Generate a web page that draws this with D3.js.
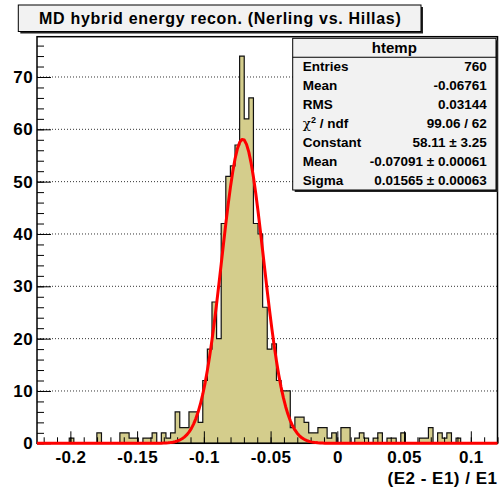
<!DOCTYPE html>
<html>
<head>
<meta charset="utf-8">
<script src="https://cdn.jsdelivr.net/npm/d3@7"></script>
<style>
  body { margin: 0; background: #fff; }
  text { font-family: "Liberation Sans", Arial, Helvetica, sans-serif; font-weight: bold; fill: #000; }
</style>
</head>
<body>
<svg id="chart" width="502" height="487"></svg>
<script>
// histogram "htemp" : 100 equal bins between xLow and xHigh
const xLow = -0.225, xHigh = 0.12;
const binCounts = [
  0, 0, 0, 0, 0, 0, 0, 1, 0, 0,
  0, 0, 0, 2, 0, 0, 0, 0, 2, 2,
  1, 1, 0, 1, 1, 2, 0, 2, 1, 2,
  6, 3, 3, 6, 6, 4, 12, 18, 27, 20,
  42, 51, 53, 57, 74, 62, 66, 42, 40, 26,
  18, 19, 12, 10, 10, 3, 5, 5, 4, 2,
  2, 3, 3, 1, 2, 0, 3, 3, 0, 1,
  2, 1, 0, 1, 2, 0, 1, 1, 0, 2,
  0, 0, 0, 1, 1, 3, 0, 2, 1, 2,
  0, 1, 0, 0, 0, 0, 0, 0, 0, 0
];
const yMax = 77.7;

const xMajorTicks = [-0.2, -0.15, -0.1, -0.05, 0, 0.05, 0.1];
const xTickLabels = ["-0.2", "-0.15", "-0.1", "-0.05", "0", "0.05", "0.1"];
const yMajorTicks = [0, 10, 20, 30, 40, 50, 60, 70];
const yTickLabels = ["0", "10", "20", "30", "40", "50", "60", "70"];

// gaussian fit parameters (from the stats box)
const fitConstant = 58.11, fitMean = -0.07091, fitSigma = 0.01565;

const titleText = "MD hybrid energy recon. (Nerling vs. Hillas)";
const xTitle = "(E2 - E1) / E1";
const statsName = "htemp";
const statLabels = ["Entries", "Mean", "RMS", "\u03c7\u00b2 / ndf", "Constant", "Mean", "Sigma"];
const statValues = ["760", "-0.06761", "0.03144", "99.06 / 62", "58.11 \u00b1 3.25",
                    "-0.07091 \u00b1 0.00061", "0.01565 \u00b1 0.00063"];

const svg = d3.select("#chart");
const frame = { left: 37, right: 497.5, top: 36.7, bottom: 443.3 };

const x = d3.scaleLinear().domain([xLow, xHigh]).range([frame.left, frame.right]);
const y = d3.scaleLinear().domain([0, yMax]).range([frame.bottom, frame.top]);

svg.append("rect").attr("width", 502).attr("height", 487).attr("fill", "#fff");

// grid on y
svg.append("g")
  .selectAll("line")
  .data(yMajorTicks.filter(d => d > 0))
  .enter().append("line")
  .attr("x1", frame.left).attr("x2", frame.right)
  .attr("y1", d => y(d)).attr("y2", d => y(d))
  .attr("stroke", "#333").attr("stroke-width", 1)
  .attr("stroke-dasharray", "1,2");

// histogram as a step contour
const bw = (xHigh - xLow) / binCounts.length;
const pts = [[xLow, 0]];
binCounts.forEach((c, i) => {
  pts.push([xLow + i * bw, c]);
  pts.push([xLow + (i + 1) * bw, c]);
});
pts.push([xHigh, 0]);
const step = d3.line().x(d => x(d[0])).y(d => y(d[1]));

svg.append("path")
  .attr("d", step(pts) + "Z")
  .attr("fill", "#d4cd8c")
  .attr("stroke", "#111")
  .attr("stroke-width", 1.2)
  .attr("stroke-linejoin", "miter");

// axes, ticks inside the frame like ROOT
svg.append("g").attr("transform", `translate(0,${frame.bottom})`)
  .call(d3.axisBottom(x).tickValues(xMajorTicks).tickSize(-12).tickPadding(8)
    .tickFormat((d, i) => xTickLabels[i]));
svg.append("g").attr("transform", `translate(0,${frame.bottom})`)
  .call(d3.axisBottom(x).tickValues(d3.range(-22, 13).map(v => v / 100)).tickSize(-6).tickFormat(""));

svg.append("g").attr("transform", `translate(${frame.left},0)`)
  .call(d3.axisLeft(y).tickValues(yMajorTicks).tickSize(-14).tickPadding(4)
    .tickFormat((d, i) => yTickLabels[i]));
svg.append("g").attr("transform", `translate(${frame.left},0)`)
  .call(d3.axisLeft(y).tickValues(d3.range(0, 78, 2)).tickSize(-7).tickFormat(""));

svg.selectAll(".domain").remove();
svg.selectAll(".tick line").attr("stroke", "#000").attr("stroke-width", 1);
svg.selectAll(".tick text").style("font-size", "17px").style("letter-spacing", "0.4px");

// frame
svg.append("rect")
  .attr("x", frame.left).attr("y", frame.top)
  .attr("width", frame.right - frame.left).attr("height", frame.bottom - frame.top)
  .attr("fill", "none").attr("stroke", "#000").attr("stroke-width", 1.5);

// fit curve
const fitX = d3.range(0, 201).map(i => xLow + i * (xHigh - xLow) / 200);
const gaus = v => fitConstant * Math.exp(-0.5 * Math.pow((v - fitMean) / fitSigma, 2));
svg.append("path")
  .attr("d", d3.line().x(d => x(d)).y(d => y(gaus(d)))(fitX))
  .attr("fill", "none").attr("stroke", "#f00").attr("stroke-width", 3)
  .attr("stroke-linejoin", "round");

// x title
svg.append("text")
  .attr("x", frame.right).attr("y", 484)
  .attr("text-anchor", "end")
  .style("font-size", "17px").style("letter-spacing", "0.5px")
  .text(xTitle);

// boxes with ROOT-like shadow
function pave(x0, y0, x1, y1) {
  svg.append("rect").attr("x", x0 + 2).attr("y", y0 + 2)
    .attr("width", x1 - x0).attr("height", y1 - y0).attr("fill", "#222");
  svg.append("rect").attr("x", x0).attr("y", y0)
    .attr("width", x1 - x0).attr("height", y1 - y0)
    .attr("fill", "#f2f2f2").attr("stroke", "#000").attr("stroke-width", 1);
}

// stats box
const sb = { x0: 292.7, x1: 496, y0: 38.3, y1: 190 };
pave(sb.x0, sb.y0, sb.x1, sb.y1);
const rowH = (sb.y1 - sb.y0) / (statLabels.length + 1);
svg.append("line")
  .attr("x1", sb.x0).attr("x2", sb.x1)
  .attr("y1", sb.y0 + rowH).attr("y2", sb.y0 + rowH)
  .attr("stroke", "#000");
svg.append("text")
  .attr("x", (sb.x0 + sb.x1) / 2).attr("y", sb.y0 + rowH / 2 + 5)
  .attr("text-anchor", "middle").style("font-size", "15px")
  .text(statsName);

const rows = svg.append("g").style("font-size", "13.5px");
statLabels.forEach((lab, i) => {
  const cy = sb.y0 + rowH * (i + 1.5) + 4.7;
  const t = rows.append("text").attr("x", 302.7).attr("y", cy);
  if (lab.startsWith("\u03c7")) {
    t.append("tspan").style("font-weight", "normal").style("font-family", "DejaVu Serif").text("\u03c7");
    t.append("tspan").attr("dy", -5).style("font-size", "9px").text("2");
    t.append("tspan").attr("dy", 5).text(" / ndf");
  } else {
    t.text(lab);
  }
  rows.append("text").attr("x", 486.7).attr("y", cy)
    .attr("text-anchor", "end").text(statValues[i]);
});

// title box
pave(18.3, 5, 421, 31.5);
svg.append("text")
  .attr("x", 39).attr("y", 23.6)
  .style("font-size", "16px").style("letter-spacing", "0.7px")
  .text(titleText);
</script>
</body>
</html>
